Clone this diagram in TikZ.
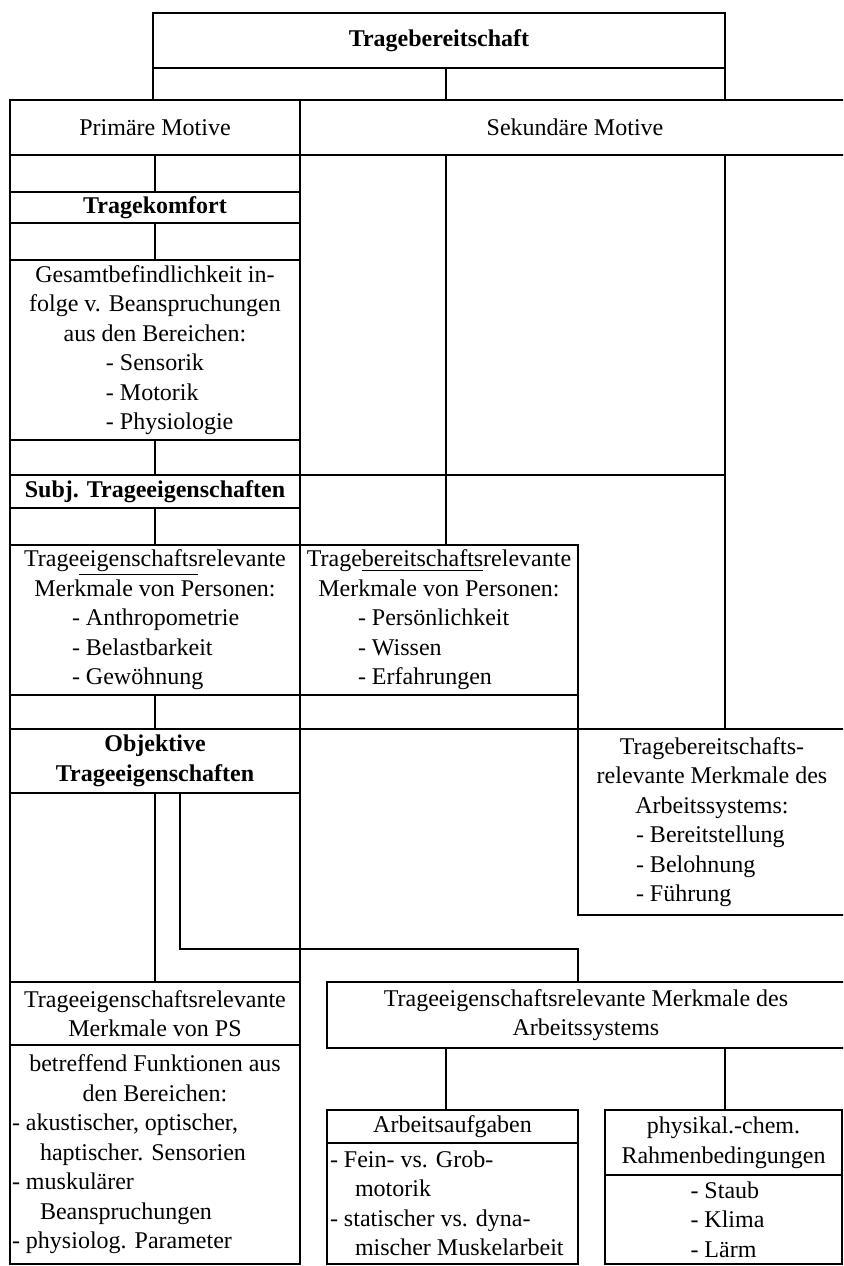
\documentclass[tikz,border=0pt]{standalone}
\usepackage{fontspec}
\setmainfont{Liberation Serif}

\newcommand\liste[2]{\makebox[#1][l]{#2}}

\tikzset{
  box/.style={draw, line width=0.9pt, inner sep=0pt, outer sep=0pt, align=center,
    font=\fontsize{12}{14.75}\selectfont},
  head/.style={box, font=\fontsize{12}{14.75}\selectfont\bfseries},
  cell/.style n args={4}{at={({(#1+#3)/2},{(#2+#4)/2})},
    minimum width={(#3-#1)*0.5pt}, minimum height={(#4-#2)*0.5pt}},
  lnk/.style={line width=0.9pt},
}

\begin{document}
\begin{tikzpicture}[x=0.5pt, y=-0.5pt]
    \useasboundingbox (0,0) rectangle (843,1266);
    \clip (0,0) rectangle (843,1266);
    \coordinate (mid) at (446,0);
    \coordinate (rgt) at (725,0);
    \coordinate (k) at (180,949);

    \node[head, cell={153}{13}{725}{68}] (tb) {Tragebereitschaft};
    \node[box, cell={10}{100}{300}{155}] (prim) {Primäre Motive};
    \node[box, cell={300}{100}{850}{155}] (sek) {Sekundäre Motive};

    \node[head, cell={10}{192}{300}{223}] (tk) {Tragekomfort};
    \node[box, cell={10}{260}{300}{440}] (ges) {Gesamtbefindlichkeit in-\\folge v. Beanspruchungen\\aus den Bereichen:\\
      \liste{49pt}{- Sensorik}\\\liste{49pt}{- Motorik}\\\liste{49pt}{- Physiologie}};
    \node[head, cell={10}{475}{300}{508}] (subj) {Subj. Trageeigenschaften};

    \node[box, cell={10}{545}{300}{695}] (pers1) {Trage\underline{eigenschafts}relevante\\Merkmale von Personen:\\
      \liste{83pt}{- Anthropometrie}\\\liste{83pt}{- Belastbarkeit}\\\liste{83pt}{- Gewöhnung}};
    \node[box, cell={300}{545}{578}{695}] (pers2) {Trage\underline{bereitschafts}relevante\\Merkmale von Personen:\\
      \liste{81pt}{- Persönlichkeit}\\\liste{81pt}{- Wissen}\\\liste{81pt}{- Erfahrungen}};

    \node[head, cell={10}{729}{300}{793}] (obj) {Objektive\\Trageeigenschaften};
    \node[box, cell={578}{729}{846}{915}] (arb1) {Tragebereitschafts-\\relevante Merkmale des\\Arbeitssystems:\\
      \liste{76pt}{- Bereitstellung}\\\liste{76pt}{- Belohnung}\\\liste{76pt}{- Führung}};

    \node[box, cell={10}{982}{300}{1045}] (psA) {Trageeigenschaftsrelevante\\Merkmale von PS};
    \node[box, cell={10}{1045}{300}{1264}] (psB) {betreffend Funktionen aus\\den Bereichen:\\
      \liste{143pt}{- akustischer, optischer,}\\\liste{143pt}{\hspace{14pt}haptischer. Sensorien}\\
      \liste{143pt}{- muskulärer}\\\liste{143pt}{\hspace{14pt}Beanspruchungen}\\
      \liste{143pt}{- physiolog. Parameter}};
    \node[box, cell={327}{982}{845}{1048}] (asA) {Trageeigenschaftsrelevante Merkmale des\\Arbeitssystems};
    \node[box, cell={327}{1110}{578}{1143}] (aufA) {Arbeitsaufgaben};
    \node[box, cell={327}{1143}{578}{1264}] (aufB) {\liste{122.5pt}{- Fein- vs. Grob-}\\
      \liste{122.5pt}{\hspace{12.5pt}motorik}\\\liste{122.5pt}{- statischer vs. dyna-}\\
      \liste{122.5pt}{\hspace{12.5pt}mischer Muskelarbeit}};
    \node[box, cell={605}{1110}{842}{1175}] (phyA) {physikal.-chem.\\Rahmenbedingungen};
    \node[box, cell={605}{1175}{842}{1264}] (phyB) {\liste{33pt}{- Staub}\\\liste{33pt}{- Klima}\\\liste{33pt}{- Lärm}};

    \draw[lnk] (tb.south west) -- (tb.south west |- prim.north)
      (mid |- tb.south) -- (mid |- sek.north)
      (tb.south east) -- (tb.south east |- sek.north);
    \foreach \a/\b in {prim/tk, tk/ges, ges/subj, subj/pers1, pers1/obj, obj/psA}
      \draw[lnk] (\a.south west) -- (\b.north west) (\a.south) -- (\b.north)
        (\a.south east) -- (\b.north east);
    \draw[lnk] (mid |- sek.south) -- (mid |- pers2.north)
      (rgt |- sek.south) -- (rgt |- arb1.north);
    \draw[lnk] (subj.north east) -- (rgt |- subj.north);
    \draw[lnk] (pers2.south east) -- (arb1.north west) (obj.north east) -- (arb1.north west);
    \draw[lnk] (obj.south -| k) -- (k) -| (arb1.west |- asA.north);
    \draw[lnk] (mid |- asA.south) -- (mid |- aufA.north)
      (rgt |- asA.south) -- (rgt |- phyA.north);
\end{tikzpicture}
\end{document}
